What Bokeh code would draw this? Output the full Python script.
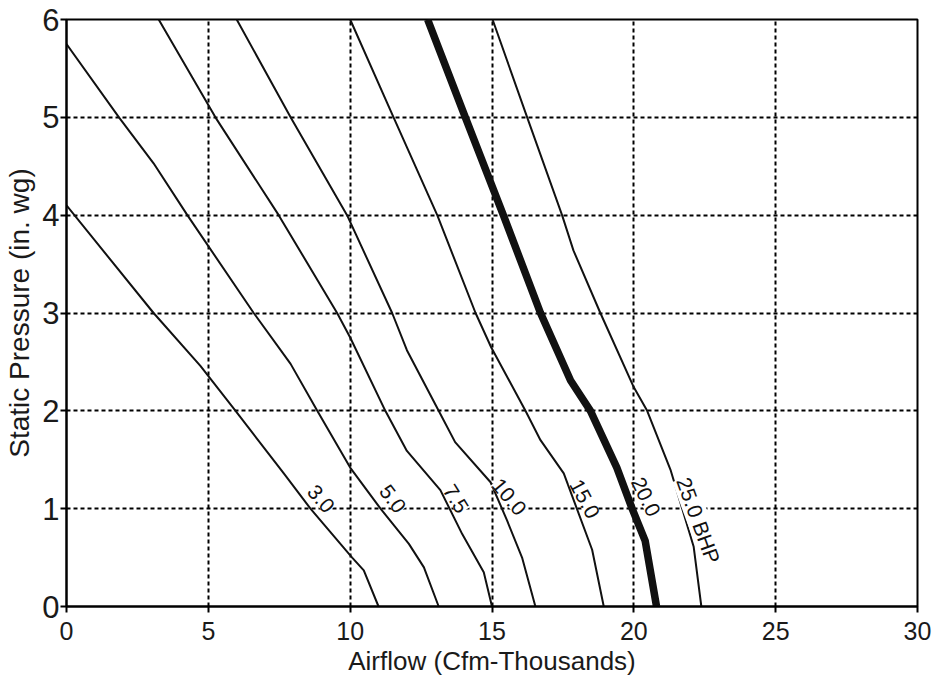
from bokeh.plotting import figure
from bokeh.models import Range1d, FixedTicker, ColumnDataSource
from bokeh.core.properties import value
from bokeh.embed import file_html
from bokeh.resources import INLINE
import math

# ---- data ----
airflow_3 = [0, 3.07, 4.72, 5.96, 7.66, 8.6, 10.07, 10.48, 11.0]
pressure_3 = [4.1, 3.0, 2.46, 2.0, 1.36, 1.0, 0.5, 0.37, 0]

airflow_5 = [0, 1.85, 3.07, 4.26, 6.6, 7.9, 8.84, 10.0, 11.07, 12.07, 12.6, 13.12]
pressure_5 = [5.75, 5.0, 4.53, 4.0, 3.0, 2.48, 2.0, 1.42, 1.0, 0.64, 0.4, 0]

airflow_75 = [3.25, 5.25, 7.48, 9.54, 10.0, 11.24, 12.0, 13.18, 13.95, 14.71, 15.0]
pressure_75 = [6, 5, 4, 3, 2.75, 2.0, 1.59, 1.19, 0.74, 0.35, 0]

airflow_10 = [6.0, 7.9, 9.89, 11.48, 12.0, 13.12, 13.7, 14.95, 15.53, 16.06, 16.53]
pressure_10 = [6, 5, 4, 3, 2.62, 2.0, 1.68, 1.27, 0.88, 0.5, 0]

airflow_15 = [10.0, 11.53, 13.07, 14.42, 14.97, 16.18, 16.71, 17.53, 18.53, 18.94]
pressure_15 = [6, 5, 4, 3, 2.65, 2.0, 1.70, 1.36, 0.58, 0]

airflow_20 = [12.73, 14.06, 15.4, 16.71, 17.77, 18.47, 19.4, 19.94, 20.4, 20.8]
pressure_20 = [6, 5, 4, 3, 2.31, 2.0, 1.42, 1.0, 0.67, 0]

airflow_25 = [15.02, 16.24, 17.47, 17.87, 18.82, 20.0, 20.47, 21.29, 22.11, 22.38]
pressure_25 = [6, 5, 4, 3.64, 3.0, 2.24, 2.0, 1.40, 0.61, 0]

label_text = ["3.0", "5.0", "7.5", "10.0", "15.0", "20.0", "25.0 BHP"]
label_x = [8.97, 11.5, 13.72, 15.6, 18.26, 20.42, 22.28]
label_y = [1.10, 1.10, 1.10, 1.12, 1.10, 1.12, 0.88]
label_angle_deg = [-49, -53, -58, -50, -62, -64, -70]

x_ticks = [0, 5, 10, 15, 20, 25, 30]
y_ticks = [0, 1, 2, 3, 4, 5, 6]

FONT = "Liberation Sans"

p = figure(width=934, height=680, x_range=Range1d(0, 30), y_range=Range1d(0, 6),
           output_backend="svg", toolbar_location=None,
           min_border_left=66, min_border_right=17, min_border_top=19, min_border_bottom=74)

p.background_fill_color = "white"
p.border_fill_color = "white"
p.outline_line_color = "black"
p.outline_line_width = 2

for ax, ticks in ((p.xaxis, x_ticks), (p.yaxis, y_ticks)):
    ax.ticker = FixedTicker(ticks=ticks)
    ax.axis_line_width = 2
    ax.axis_line_color = "black"
    ax.major_tick_line_width = 2
    ax.major_tick_line_color = "black"
    ax.major_tick_out = 6
    ax.major_tick_in = 0
    ax.minor_tick_line_color = None
    ax.major_label_text_font = FONT
    ax.major_label_text_color = "#1a1a1a"
    ax.axis_label_text_font = FONT
    ax.axis_label_text_font_style = "normal"
    ax.axis_label_text_color = "#1a1a1a"

p.xaxis.major_label_text_font_size = "25px"
p.yaxis.major_label_text_font_size = "31px"
p.xaxis.axis_label = "Airflow (Cfm-Thousands)"
p.yaxis.axis_label = "Static Pressure (in. wg)"
p.xaxis.axis_label_text_font_size = "26px"
p.yaxis.axis_label_text_font_size = "28px"
p.xaxis.major_label_standoff = 9
p.yaxis.major_label_standoff = 1
p.xaxis.axis_label_standoff = 3
p.yaxis.axis_label_standoff = 4

p.xgrid.ticker = FixedTicker(ticks=[5, 10, 15, 20, 25])
p.ygrid.ticker = FixedTicker(ticks=[1, 2, 3, 4, 5])
for g in (p.xgrid, p.ygrid):
    g.grid_line_color = "black"
    g.grid_line_width = 2
    g.grid_line_dash = "4 3"
    g.grid_line_alpha = 1.0

curves = [
    (airflow_3, pressure_3, 2),
    (airflow_5, pressure_5, 2),
    (airflow_75, pressure_75, 2),
    (airflow_10, pressure_10, 2),
    (airflow_15, pressure_15, 2),
    (airflow_20, pressure_20, 7.5),
    (airflow_25, pressure_25, 2),
]
for xs, ys, w in curves:
    p.line(xs, ys, line_color="#111111", line_width=w, line_join="round", line_cap="butt")

src = ColumnDataSource(dict(x=label_x, y=label_y, text=label_text,
                            angle=[math.radians(a) for a in label_angle_deg]))
p.text(x="x", y="y", text="text", angle="angle", source=src,
       text_font=value(FONT), text_font_size="21px", text_color="#111111",
       text_align="center", text_baseline="middle",
       background_fill_color="white", padding=0)

open("out.html", "w").write(file_html(p, INLINE))
